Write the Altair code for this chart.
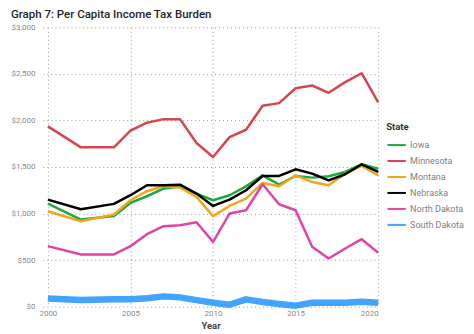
import altair as alt
import pandas as pd

years = [2000, 2002, 2004, 2005, 2006, 2007, 2008, 2009, 2010, 2011, 2012,
         2013, 2014, 2015, 2016, 2017, 2018, 2019, 2020]

iowa = [1108, 936, 975, 1114, 1186, 1268, 1290, 1215, 1143, 1197, 1293,
        1411, 1311, 1404, 1386, 1400, 1447, 1529, 1483]
minnesota = [1936, 1711, 1711, 1890, 1976, 2014, 2014, 1757, 1607, 1821, 1900,
             2157, 2186, 2346, 2375, 2297, 2411, 2507, 2195]
montana = [1025, 918, 990, 1143, 1240, 1293, 1280, 1179, 972, 1082, 1161,
           1329, 1293, 1411, 1339, 1304, 1429, 1511, 1411]
nebraska = [1150, 1047, 1104, 1197, 1304, 1304, 1310, 1215, 1082, 1150, 1250,
            1404, 1404, 1475, 1429, 1357, 1422, 1529, 1447]
north_dakota = [650, 561, 561, 650, 779, 864, 875, 907, 696, 1000, 1036,
                1315, 1100, 1036, 643, 518, 625, 725, 579]
south_dakota = [89, 71, 79, 79, 90, 111, 100, 71, 42, 21, 79,
                50, 29, 11, 43, 43, 43, 54, 43]

states = ["Iowa", "Minnesota", "Montana", "Nebraska", "North Dakota", "South Dakota"]
colors = ["#1AAB40", "#D64550", "#F2A61F", "#000000", "#E044A7", "#41A4FF"]

series = {"Iowa": iowa, "Minnesota": minnesota, "Montana": montana,
          "Nebraska": nebraska, "North Dakota": north_dakota,
          "South Dakota": south_dakota}

rows = []
for s in states:
    for y, v in zip(years, series[s]):
        rows.append({"Year": y, "Value": v, "State": s})
df = pd.DataFrame(rows)

FONT = "Roboto"

chart = alt.Chart(df).mark_line(strokeJoin="round", strokeCap="butt").encode(
    x=alt.X("Year:Q",
            scale=alt.Scale(domain=[1999.7, 2020], nice=False, zero=False),
            axis=alt.Axis(values=[2000, 2005, 2010, 2015, 2020], format="d",
                          title="Year", labelPadding=3, titlePadding=3)),
    y=alt.Y("Value:Q",
            scale=alt.Scale(domain=[0, 3000], nice=False),
            axis=alt.Axis(values=[0, 500, 1000, 1500, 2000, 2500, 3000],
                          format="$,.0f", title=None, labelPadding=8)),
    color=alt.Color("State:N",
                    scale=alt.Scale(domain=states, range=colors),
                    legend=alt.Legend(title="State", orient="none",
                                      legendX=344, legendY=95)),
    strokeWidth=alt.condition(alt.datum.State == "South Dakota",
                              alt.value(6.5), alt.value(2.5)),
).properties(
    width=336,
    height=280,
    autosize=alt.AutoSizeParams(type="none"),
    padding={"left": 35, "top": 19, "right": 88, "bottom": 23},
    title=alt.Title("Graph 7: Per Capita Income Tax Burden", anchor="start",
                    frame="bounds", offset=3, fontSize=11.5, fontWeight=500,
                    color="#252423", font=FONT),
).configure_view(
    stroke=None
).configure_axis(
    grid=True,
    gridColor="#9a9a9a",
    gridDash=[1, 3],
    gridWidth=1,
    domain=False,
    ticks=False,
    tickSize=0,
    labelColor="#8a8a8a",
    labelFontSize=8,
    labelFont=FONT,
    titleFont=FONT,
    titleFontSize=9.5,
    titleFontWeight=700,
    titleColor="#444444",
).configure_legend(
    symbolType="stroke",
    symbolSize=340,
    symbolStrokeWidth=2,
    labelFontSize=9,
    labelColor="#808080",
    labelFont=FONT,
    titleFont=FONT,
    titleFontSize=9.5,
    titleFontWeight=700,
    titleColor="#333333",
    rowPadding=-2.2,
    titlePadding=3,
    labelOffset=3,
)

chart.save("out.html", embed_options={"renderer": "svg", "actions": False})
